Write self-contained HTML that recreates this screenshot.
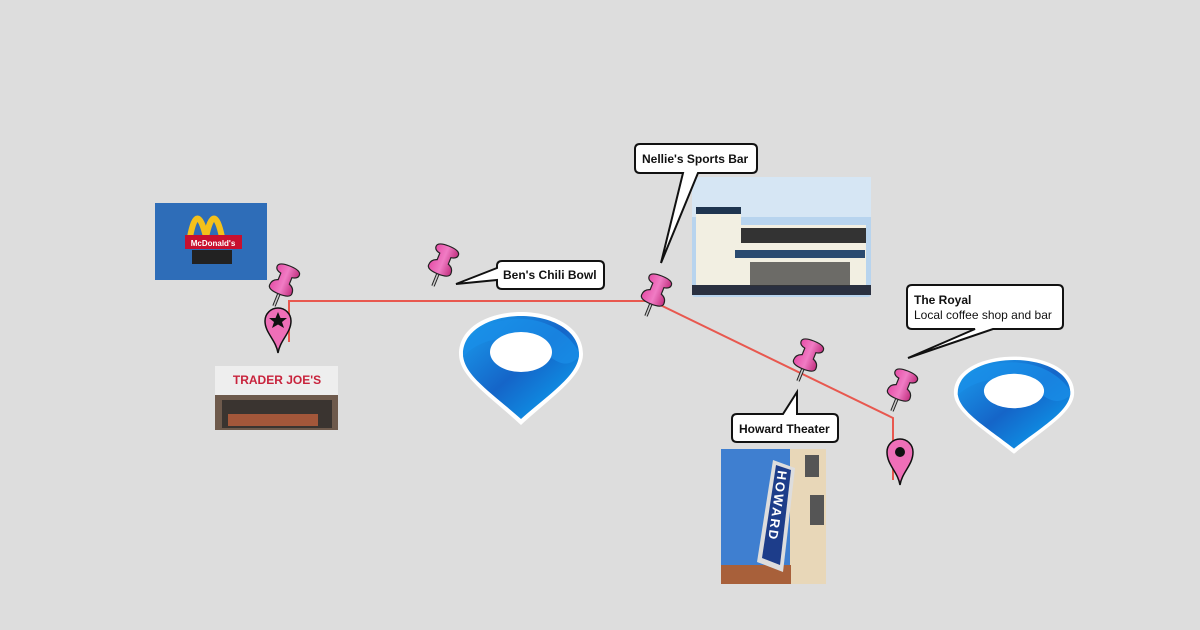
<!DOCTYPE html>
<html><head><style>
body{margin:0;background:#dddddd;}
svg{display:block;font-family:"Liberation Sans",sans-serif;}
</style></head><body>
<svg width="1200" height="630" viewBox="0 0 1200 630" xmlns="http://www.w3.org/2000/svg">
<defs>
<linearGradient id="pg" x1="0" x2="1"><stop offset="0" stop-color="#e64fa8"/><stop offset="0.5" stop-color="#f07cc4"/><stop offset="1" stop-color="#c2307f"/></linearGradient>
<g id="pin">
  <line x1="0" y1="0" x2="0" y2="-16" stroke="#222" stroke-width="3.5"/>
  <line x1="0" y1="0" x2="0" y2="-16" stroke="#ccc" stroke-width="1.5"/>
  <path d="M-12,-18 Q-12,-24 -6,-26 L-6,-33 Q-12,-34 -12,-38 Q-12,-43 0,-43 Q12,-43 12,-38 Q12,-34 6,-33 L6,-26 Q12,-24 12,-18 Q12,-13 0,-13 Q-12,-13 -12,-18 Z" fill="url(#pg)" stroke="#222" stroke-width="1.2"/>
</g>
<linearGradient id="bg" x1="0" y1="0" x2="1" y2="1"><stop offset="0" stop-color="#1aa0f0"/><stop offset="0.5" stop-color="#1565c8"/><stop offset="1" stop-color="#0aa8f5"/></linearGradient>
<g id="big">
  <path d="M0,73 C-30,45 -62,25 -62,2 C-62,-25 -32,-40 0,-40 C32,-40 62,-25 62,2 C62,25 30,45 0,73 Z" fill="#fff"/>
  <path d="M0,67 C-28,42 -58,23 -58,2 C-58,-22 -30,-36 0,-36 C30,-36 58,-22 58,2 C58,23 28,42 0,67 Z" fill="url(#bg)"/>
  <path d="M-58,5 C-40,-15 -10,-18 10,-8 C30,2 40,22 58,5 L58,0 C40,-32 0,-40 -30,-28 C-50,-18 -58,-5 -58,5Z" fill="#1a8ee8" opacity="0.7"/>
  <ellipse cx="0" cy="0" rx="31" ry="20" fill="#fff"/>
</g>
</defs>

<polyline points="289,342 289,301 652,301 893,418 893,480" fill="none" stroke="#e8584f" stroke-width="2"/>

<!-- McDonald's -->
<rect x="155" y="203" width="112" height="77" fill="#2e6db8"/>
<path d="M190,237 Q197,200 206,237 Q214,200 222,237" fill="none" stroke="#f3c11b" stroke-width="6"/>
<rect x="185" y="235" width="57" height="14" fill="#c8102e"/>
<text x="213" y="246" font-size="8" fill="#fff" text-anchor="middle" font-weight="bold">McDonald's</text>
<rect x="192" y="250" width="40" height="14" fill="#222"/>

<!-- Trader Joe's -->
<rect x="215" y="357" width="123" height="73" fill="#eeeeee"/>
<rect x="215" y="357" width="123" height="9" fill="#ddd"/>
<text x="277" y="384" font-size="12" fill="#c8233c" text-anchor="middle" font-weight="bold">TRADER JOE'S</text>
<rect x="215" y="395" width="123" height="35" fill="#6e5a4c"/>
<rect x="222" y="400" width="110" height="28" fill="#3a3430"/>
<rect x="228" y="414" width="90" height="12" fill="#a3573a"/>

<!-- Nellie's photo -->
<rect x="692" y="177" width="179" height="120" rx="3" fill="#b8d4ee"/>
<rect x="692" y="177" width="179" height="40" fill="#d6e6f4"/>
<rect x="696" y="210" width="45" height="84" fill="#f2efe2"/>
<rect x="696" y="207" width="45" height="7" fill="#1f3550"/>
<rect x="741" y="225" width="125" height="69" fill="#f2efe2"/>
<rect x="741" y="228" width="125" height="15" fill="#333"/>
<rect x="735" y="250" width="130" height="8" fill="#2a4a70"/>
<rect x="692" y="285" width="179" height="10" fill="#2a3040"/>
<rect x="750" y="262" width="100" height="24" fill="#333" opacity="0.7"/>

<!-- Howard photo -->
<rect x="721" y="449" width="105" height="135" fill="#3f7fd0"/>
<rect x="790" y="449" width="36" height="135" fill="#e8d7b8"/>
<rect x="805" y="455" width="14" height="22" fill="#555"/>
<rect x="810" y="495" width="14" height="30" fill="#555"/>
<rect x="721" y="565" width="70" height="19" fill="#a8603a"/>
<polygon points="773,460 795,468 783,572 757,562" fill="#ddd"/>
<polygon points="776,465 791,470 780,565 762,558" fill="#1d3d8a"/>
<text font-size="13" font-weight="bold" fill="#fff" transform="translate(778,470) rotate(98)" letter-spacing="2">HOWARD</text>

<!-- pins -->
<use href="#pin" transform="translate(274,306) rotate(22)"/>
<use href="#pin" transform="translate(433,286) rotate(22)"/>
<use href="#pin" transform="translate(646,316) rotate(22)"/>
<use href="#pin" transform="translate(798,381) rotate(22)"/>
<use href="#pin" transform="translate(892,411) rotate(22)"/>

<!-- markers -->
<path d="M278,353 C276,340 265,333 265,321 A13,13 0 0 1 291,321 C291,333 280,340 278,353 Z" fill="#ef6fb8" stroke="#111" stroke-width="1.5"/>
<polygon points="278,312 280.5,318 287,318 282,322 284,328 278,324.5 272,328 274,322 269,318 275.5,318" fill="#111"/>
<path d="M900,485 C898,472 887,465 887,452 A13,13 0 0 1 913,452 C913,465 902,472 900,485 Z" fill="#ef6fb8" stroke="#111" stroke-width="1.5"/>
<circle cx="900" cy="452" r="5" fill="#111"/>

<!-- big markers -->
<use href="#big" transform="translate(521,352)"/>
<use href="#big" transform="translate(1014,391) scale(0.97,0.86)"/>

<!-- callouts -->
<g stroke="#111" stroke-width="2" fill="#fff">
<path d="M502,261 H599 Q604,261 604,266 V284 Q604,289 599,289 H502 Q497,289 497,284 V280 L456,284 L497,268 V266 Q497,261 502,261Z"/>
<path d="M640,144 H752 Q757,144 757,149 V168 Q757,173 752,173 H698 L661,263 L683,173 H640 Q635,173 635,168 V149 Q635,144 640,144Z"/>
<path d="M912,285 H1058 Q1063,285 1063,290 V324 Q1063,329 1058,329 H993 L908,358 L975,329 H912 Q907,329 907,324 V290 Q907,285 912,285Z"/>
<path d="M737,414 H783 L797,392 V414 H833 Q838,414 838,419 V437 Q838,442 833,442 H737 Q732,442 732,437 V419 Q732,414 737,414Z"/>
</g>
<g font-size="12" fill="#111">
<text x="503" y="279" font-weight="bold">Ben's Chili Bowl</text>
<text x="642" y="163" font-weight="bold">Nellie's Sports Bar</text>
<text x="914" y="304" font-weight="bold">The Royal</text>
<text x="914" y="319">Local coffee shop and bar</text>
<text x="739" y="433" font-weight="bold">Howard Theater</text>
</g>
</svg>
</body></html>
